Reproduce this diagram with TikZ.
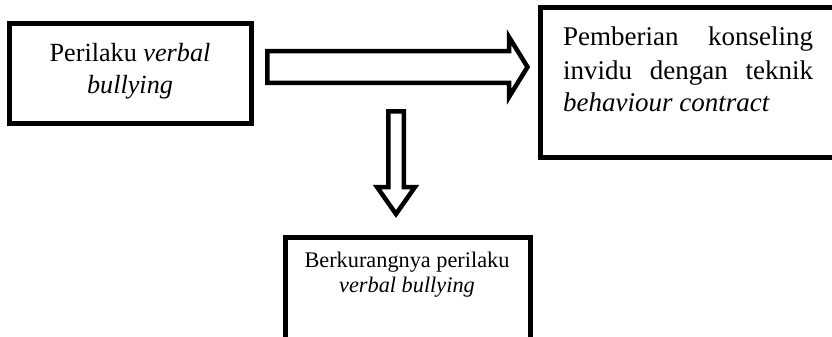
\documentclass[tikz,border=0pt]{standalone}
\usepackage{fontspec}
\setmainfont{Liberation Serif}
\usetikzlibrary{calc}
\begin{document}
\begin{tikzpicture}[x=1pt,y=-1pt,
  boxshape/.style={draw=black, line width=5pt, rectangle, inner sep=0pt, fill=white},
  blockarrow/.style={draw=black, line width=4.5pt, fill=white, line join=miter},
  bigtext/.style={anchor=base, inner sep=0pt, font=\fontsize{26.2}{30}\selectfont},
  midtext/.style={anchor=base west, inner sep=0pt, font=\fontsize{27}{30}\selectfont},
  smalltext/.style={anchor=base, inner sep=0pt, font=\fontsize{22.3}{26}\selectfont}]
\useasboundingbox (0,0) rectangle (832,337);
\clip (0,0) rectangle (832,337);

% boxes
\node[boxshape, minimum width=242pt, minimum height=100pt] (b1) at (130.5,73.5) {};
\node[boxshape, minimum width=340pt, minimum height=149.5pt] (b2) at (710.5,82.75) {};
\node[boxshape, minimum width=245pt, minimum height=122.5pt] (b3) at (408,298.75) {};

% texts of box 1
\node[bigtext] (t1a) at (130,61) {Perilaku \textit{verbal}};
\node[bigtext] (t1b) at (130,93) {\textit{bullying}};

% texts of box 2
\node[midtext] (t2a) at (563,45.5) {\makebox[250pt][s]{Pemberian konseling}};
\node[midtext] (t2b) at (563,79) {\makebox[250pt][s]{invidu dengan teknik}};
\node[midtext] (t2c) at (563,111.5) {\textit{behaviour contract}};

% texts of box 3
\node[smalltext] (t3a) at (407,267.5) {Berkurangnya perilaku};
\node[smalltext] (t3b) at (407,292.5) {\textit{verbal bullying}};

% right block arrow
\coordinate (ra) at (267.25,67);
\coordinate (rt) at (527.5,67);
\draw[blockarrow] ($(ra)+(0,-15.75)$) -- ($(rt)+(-18.5,-15.75)$) -- ($(rt)+(-18.5,-30)$)
  -- (rt) -- ($(rt)+(-18.5,30)$) -- ($(rt)+(-18.5,15.75)$) -- ($(ra)+(0,15.75)$) -- cycle;

% down block arrow
\coordinate (da) at (396,111.25);
\coordinate (dt) at (396,214);
\draw[blockarrow] ($(da)+(-7.75,0)$) -- ($(da)+(7.75,0)$) -- ($(dt)+(7.75,-27)$) -- ($(dt)+(19,-27)$)
  -- (dt) -- ($(dt)+(-19,-27)$) -- ($(dt)+(-7.75,-27)$) -- cycle;
\end{tikzpicture}
\end{document}
